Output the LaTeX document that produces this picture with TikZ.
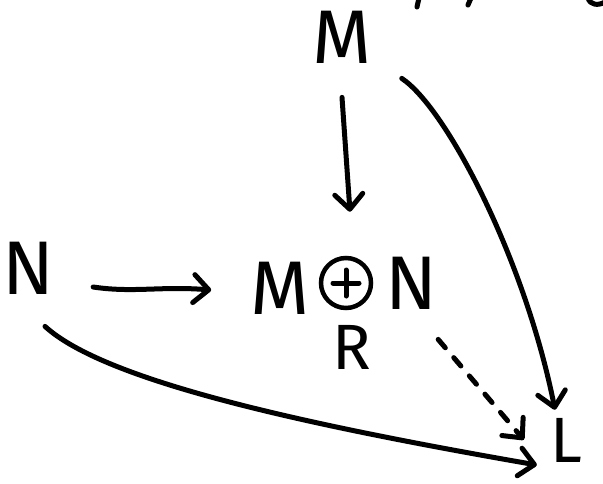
\documentclass[tikz,border=0pt]{standalone}
\usepackage{fontspec}
\setmainfont{Fira Sans}
\usetikzlibrary{arrows.meta}
\begin{document}
\begin{tikzpicture}[x=1pt,y=-1pt,
  lbl/.style={font=\fontsize{76}{80}\selectfont, inner sep=0pt},
  small/.style={font=\fontsize{64}{68}\selectfont, inner sep=0pt},
  ink/.style={line width=5pt, line cap=round, line join=round},
  arr/.style={ink, -{Straight Barb[length=15pt,width=28pt,round]}},
  dsh/.style={arr, dash pattern=on 11pt off 13pt},
  opl/.style={circle, draw, line width=4.5pt, minimum size=50pt, inner sep=0pt,
    path picture={\draw[line width=5pt, line cap=round]
      ([xshift=-13pt]path picture bounding box.center) -- ([xshift=13pt]path picture bounding box.center)
      ([yshift=-13pt]path picture bounding box.center) -- ([yshift=13pt]path picture bounding box.center);}},
]
\useasboundingbox (0,0) rectangle (603,483);
% nodes
\node[lbl] (M) at (342,37) {M};
\node[lbl] (N) at (28,268) {N};
\node[lbl] (m2) at (280,288) {M};
\node[opl] (op) at (346,283) {};
\node[lbl] (n2) at (411,283) {N};
\node[small] (R) at (352,347) {R};
\node[small] (L) at (566,440) {L};
% arrows
\draw[arr] ([shift={(0,34)}]M.south) -- ([shift={(4,-44)}]op.north);
\draw[arr] ([shift={(39,19)}]N.east) .. controls +(40,6) and +(-50,-4) .. ([shift={(-39,2)}]m2.west);
\draw[arr] ([shift={(30,15)}]M.south east) .. controls +(45,30) and +(-30,-150) .. ([shift={(-11,-8)}]L.north);
\draw[arr] ([shift={(17,32)}]N.south) .. controls +(60,55) and +(-230,-40) .. ([shift={(-13,25)}]L.west);
\draw[dsh] ([shift={(1,30)}]n2.south east) -- ([shift={(-26,22)}]L.north west);
% cut-off strokes at top edge
\draw[ink] (419,-2) -- (417,7);
\draw[ink] (471,-2) -- (468,5);
\draw[ink] (588,-2) .. controls (590,5) and (598,6) .. (605,2);
\end{tikzpicture}
\end{document}
